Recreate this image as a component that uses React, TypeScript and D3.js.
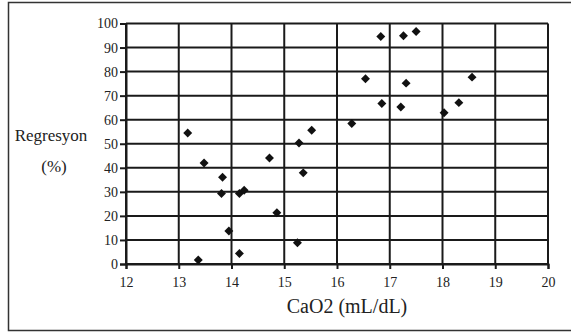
import React, { useEffect, useRef } from "react";
import * as d3 from "d3";

// CaO2 (mL/dL) values
const caO2 = [
  13.17, 13.37, 13.48, 13.83, 13.81, 13.95, 14.15, 14.24, 14.15, 14.72, 14.86, 15.25, 15.28,
  15.36, 15.52, 16.28, 16.54, 16.83, 16.85, 17.26, 17.5, 17.31, 17.21, 18.03, 18.31, 18.56,
];
// Regresyon (%) values
const regresyon = [
  54.5, 1.7, 42, 36.1, 29.3, 13.7, 29.3, 30.7, 4.4, 44.1, 21.3, 8.8, 50.3,
  37.9, 55.6, 58.4, 77, 94.6, 66.7, 94.9, 96.7, 75.2, 65.3, 62.9, 67.1, 77.7,
];
const xTicks = [12, 13, 14, 15, 16, 17, 18, 19, 20];
const yTicks = [0, 10, 20, 30, 40, 50, 60, 70, 80, 90, 100];

const W = 571;
const H = 332;

const App = () => {
  const svgRef = useRef<SVGSVGElement>(null);

  useEffect(() => {
    const svg = d3.select(svgRef.current);
    svg.selectAll("*").remove();

    const left = 126;
    const right = 548;
    const top = 23.5;
    const bottom = 264;
    const ink = "#1a1a1a";
    const font = "'Liberation Serif', 'Times New Roman', serif";

    // outer frame (right edge falls off the picture)
    svg
      .append("rect")
      .attr("x", 8.5)
      .attr("y", 2.5)
      .attr("width", 570)
      .attr("height", 328)
      .attr("fill", "none")
      .attr("stroke", "#333")
      .attr("stroke-width", 1.5);

    const x = d3.scaleLinear().domain([12, 20]).range([left, right]);
    const y = d3.scaleLinear().domain([0, 100]).range([bottom, top]);

    // grid lines
    svg
      .append("g")
      .selectAll("line")
      .data(xTicks)
      .enter()
      .append("line")
      .attr("x1", (d) => x(d))
      .attr("x2", (d) => x(d))
      .attr("y1", top)
      .attr("y2", bottom)
      .attr("stroke", ink)
      .attr("stroke-width", 2);

    svg
      .append("g")
      .selectAll("line")
      .data(yTicks)
      .enter()
      .append("line")
      .attr("x1", left)
      .attr("x2", right)
      .attr("y1", (d) => y(d))
      .attr("y2", (d) => y(d))
      .attr("stroke", ink)
      .attr("stroke-width", 2);

    // x axis
    const xAxis = svg
      .append("g")
      .attr("transform", `translate(0, ${bottom})`)
      .call(d3.axisBottom(x).tickValues(xTicks).tickSize(5).tickPadding(8).tickFormat(d3.format("d")));
    xAxis.select(".domain").attr("stroke", ink).attr("stroke-width", 2);
    xAxis.selectAll(".tick line").attr("stroke", ink).attr("stroke-width", 2);
    xAxis
      .selectAll(".tick text")
      .attr("fill", "#222")
      .style("font-family", font)
      .style("font-size", "14px");

    // y axis
    const yAxis = svg
      .append("g")
      .attr("transform", `translate(${left}, 0)`)
      .call(d3.axisLeft(y).tickValues(yTicks).tickSize(6).tickPadding(2).tickFormat(d3.format("d")));
    yAxis.select(".domain").attr("stroke", ink).attr("stroke-width", 2);
    yAxis.selectAll(".tick line").attr("stroke", ink).attr("stroke-width", 2);
    yAxis
      .selectAll(".tick text")
      .attr("fill", "#222")
      .style("font-family", font)
      .style("font-size", "14px");

    // diamond markers
    const diamond = d3.symbol().type(d3.symbolSquare).size(40);
    svg
      .append("g")
      .selectAll("path")
      .data(caO2.map((c, i) => ({ c, r: regresyon[i] })))
      .enter()
      .append("path")
      .attr("d", diamond)
      .attr("transform", (d) => `translate(${x(d.c)}, ${y(d.r)}) rotate(45)`)
      .attr("fill", "#111");

    // axis titles
    svg
      .append("text")
      .attr("x", x(16) + 10)
      .attr("y", 313)
      .attr("text-anchor", "middle")
      .attr("fill", "#222")
      .style("font-family", font)
      .style("font-size", "20px")
      .text("CaO2 (mL/dL)");

    svg
      .append("text")
      .attr("x", 51)
      .attr("y", 141)
      .attr("text-anchor", "middle")
      .attr("fill", "#222")
      .style("font-family", font)
      .style("font-size", "17px")
      .text("Regresyon");

    svg
      .append("text")
      .attr("x", 54)
      .attr("y", 172)
      .attr("text-anchor", "middle")
      .attr("fill", "#222")
      .style("font-family", font)
      .style("font-size", "17px")
      .text("(%)");
  }, []);

  return (
    <div style={{ position: "absolute", left: 0, top: 0 }}>
      <svg ref={svgRef} width={W} height={H} style={{ display: "block", background: "#fff" }} />
    </div>
  );
};

export default App;
